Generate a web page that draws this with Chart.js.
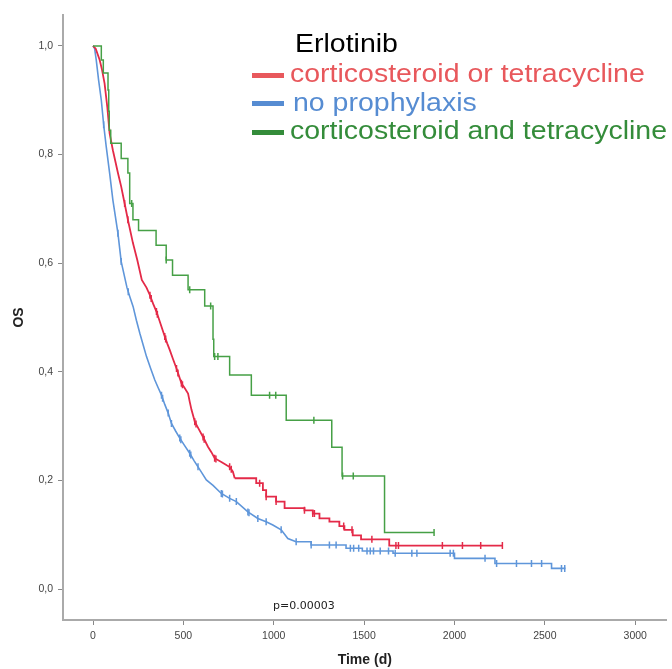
<!DOCTYPE html>
<html lang="en">
<head>
<meta charset="UTF-8">
<title>OS - Erlotinib</title>
<script src="https://cdn.jsdelivr.net/npm/chart.js"></script>
<style>
  body { margin: 0; background: #fff; }
  #wrap { position: relative; width: 672px; height: 669px; }
  .lg { position: absolute; font-family: "Liberation Sans", Arial, sans-serif; font-size: 25px; line-height: 25px;
        white-space: nowrap; transform-origin: 0 0; transform: scaleX(1.14); }
  .sw { position: absolute; left: 252px; width: 32px; height: 5px; }
  #pval { position: absolute; left: 273px; top: 600px; font-family: "DejaVu Sans", sans-serif; font-size: 11px;
          line-height: 11px; color: #222; }
</style>
</head>
<body>
<div id="wrap">
  <canvas id="km" width="672" height="669"></canvas>
  <div id="legend"></div>
  <div id="pval">p=0.00003</div>
</div>
<script>
// tick values
const xTicks = [0, 500, 1000, 1500, 2000, 2500, 3000];
const yTicks = [0, 0.2, 0.4, 0.6, 0.8, 1.0];

// legend
const legendTitle = 'Erlotinib';
const seriesNames = ['corticosteroid or tetracycline', 'no prophylaxis', 'corticosteroid and tetracycline'];
const lineColors = ['rgb(228,42,72)', 'rgb(95,150,218)', 'rgb(70,160,70)'];
const legendColors = ['rgb(232,88,92)', 'rgb(86,140,210)', 'rgb(52,140,58)'];

// corticosteroid or tetracycline (red): time (d) / survival
const redT = [0, 15, 37, 50, 64, 79, 92, 110, 138, 156, 175, 193, 221, 245, 270, 296, 315, 333, 351, 374,
  397, 411, 425, 443, 462, 476, 489, 507, 526, 535, 545, 555, 563, 586, 609, 636, 655, 673, 710, 740, 756,
  774, 784, 903, 940, 958, 1013, 1060, 1170, 1216, 1253, 1308, 1363, 1391, 1437, 1483, 1639, 2265];
const redS = [1.0, 0.995, 0.974, 0.956, 0.931, 0.888, 0.839, 0.808, 0.766, 0.741, 0.710, 0.680, 0.637, 0.606,
  0.569, 0.555, 0.541, 0.525, 0.511, 0.488, 0.465, 0.452, 0.440, 0.423, 0.406, 0.392, 0.379, 0.370, 0.360,
  0.345, 0.330, 0.318, 0.308, 0.294, 0.280, 0.262, 0.252, 0.241, 0.234, 0.228, 0.225, 0.216, 0.204, 0.195,
  0.182, 0.170, 0.161, 0.149, 0.145, 0.139, 0.130, 0.124, 0.116, 0.109, 0.099, 0.0915, 0.080, 0.080];
const redCens = [175, 193, 315, 322, 351, 356, 397, 402, 462, 470, 489, 495, 563, 570, 609, 615, 673, 680,
  756, 765, 922, 958, 1013, 1170, 1216, 1225, 1387, 1433, 1543, 1676, 1690, 1933, 2044, 2145, 2265];

// no prophylaxis (blue)
const blueT = [0, 9, 18, 31, 46, 59, 73, 92, 110, 138, 156, 188, 205, 222, 240, 259, 278, 296, 320, 342,
  360, 379, 397, 416, 434, 457, 480, 507, 535, 558, 581, 604, 627, 664, 710, 756, 793, 857, 912, 958, 995,
  1041, 1078, 1124, 1207, 1400, 1490, 1660, 2000, 2224, 2537, 2614];
const blueS = [1.0, 0.995, 0.974, 0.937, 0.900, 0.855, 0.815, 0.766, 0.716, 0.655, 0.603, 0.555, 0.537, 0.520,
  0.495, 0.471, 0.449, 0.428, 0.405, 0.385, 0.371, 0.357, 0.340, 0.324, 0.305, 0.291, 0.278, 0.264, 0.250,
  0.237, 0.225, 0.213, 0.201, 0.191, 0.176, 0.167, 0.161, 0.142, 0.130, 0.124, 0.118, 0.109, 0.093, 0.087,
  0.081, 0.075, 0.070, 0.066, 0.0565, 0.047, 0.038, 0.038];
const blueCens = [59, 138, 156, 195, 379, 385, 416, 434, 480, 486, 535, 541, 581, 710, 716, 756, 793, 857,
  863, 912, 958, 1041, 1124, 1207, 1308, 1345, 1424, 1442, 1470, 1516, 1534, 1552, 1589, 1635, 1672, 1764,
  1792, 1976, 1994, 2169, 2233, 2343, 2426, 2482, 2592, 2610];

// corticosteroid and tetracycline (green)
const greenT = [0, 46, 57, 83, 87, 90, 98, 156, 193, 203, 221, 252, 349, 405, 440, 526, 618, 664, 668,
  756, 876, 1069, 1321, 1378, 1613, 1887];
const greenS = [1.0, 0.974, 0.950, 0.919, 0.88, 0.845, 0.821, 0.793, 0.766, 0.710, 0.680, 0.660, 0.633,
  0.606, 0.578, 0.551, 0.521, 0.460, 0.428, 0.394, 0.357, 0.311, 0.261, 0.208, 0.104, 0.104];
const greenCens = [214, 405, 535, 651, 673, 691, 977, 1011, 1222, 1381, 1440, 1887];

// dense early part of red/blue is drawn as a polyline, the rest as KM steps
const smoothUntil = [784, 1124, 0];

function survAt(T, S, t, split) {
  for (let i = 1; i < T.length; i++) {
    if (t < T[i]) {
      if (T[i] <= split) return S[i - 1] + (S[i] - S[i - 1]) * (t - T[i - 1]) / (T[i] - T[i - 1]);
      return S[i - 1];
    }
  }
  return S[S.length - 1];
}
function points(T, S, keep) {
  return T.map((t, i) => ({ x: t, y: S[i] })).filter(p => keep(p.x));
}

const groups = [
  { T: redT, S: redS, C: redCens, w: 1.8 },
  { T: blueT, S: blueS, C: blueCens, w: 1.6 },
  { T: greenT, S: greenS, C: greenCens, w: 1.5 }
];

const datasets = [];
[2, 0, 1].forEach(g => {
  const grp = groups[g];
  const split = smoothUntil[g];
  const base = { showLine: true, borderColor: lineColors[g], borderWidth: grp.w, pointRadius: 0 };
  if (split > 0) {
    datasets.push(Object.assign({ data: points(grp.T, grp.S, t => t <= split), stepped: false }, base));
  }
  datasets.push(Object.assign({ data: points(grp.T, grp.S, t => t >= split), stepped: true }, base));
  datasets.push({
    data: grp.C.map(t => ({ x: t, y: survAt(grp.T, grp.S, t, split) })),
    showLine: false,
    pointStyle: 'line', rotation: 90, pointRadius: 3.5,
    borderColor: lineColors[g], pointBorderWidth: 1.5, backgroundColor: lineColors[g]
  });
});

const tickFont = { family: '"Liberation Sans", Arial, sans-serif', size: 10.5 };
const titleFont = { family: '"Liberation Sans", Arial, sans-serif', size: 14, weight: 'bold' };

new Chart(document.getElementById('km'), {
  type: 'scatter',
  data: { datasets: datasets },
  options: {
    responsive: false,
    animation: false,
    layout: { padding: { top: 15, right: 4, left: 0, bottom: 0 } },
    plugins: { legend: { display: false }, tooltip: { enabled: false } },
    scales: {
      x: {
        type: 'linear', min: -166, max: 3173,
        afterBuildTicks: s => { s.ticks = xTicks.map(v => ({ value: v })); },
        afterFit: s => { s.height = 49; },
        ticks: { font: tickFont, color: '#444', padding: 5, maxRotation: 0, callback: v => String(v) },
        grid: { drawOnChartArea: false, tickLength: 5, color: '#888' },
        border: { color: '#aaa', width: 2 },
        title: { display: true, text: 'Time (d)', font: titleFont, color: '#222', padding: { top: 0, bottom: 0 } }
      },
      y: {
        type: 'linear', min: -0.057, max: 1.057,
        afterBuildTicks: s => { s.ticks = yTicks.map(v => ({ value: v })); },
        afterFit: s => { s.width = 63; },
        ticks: { font: tickFont, color: '#444', padding: 5, callback: v => v.toFixed(1).replace('.', ',') },
        grid: { drawOnChartArea: false, tickLength: 5, color: '#888' },
        border: { color: '#aaa', width: 2 },
        title: { display: true, text: 'OS', font: titleFont, color: '#222', padding: { top: 11, bottom: 0 } }
      }
    }
  }
});

// legend block (baseline positions)
const legend = document.getElementById('legend');
function addText(txt, left, baseline, color) {
  const d = document.createElement('div');
  d.className = 'lg';
  d.textContent = txt;
  d.style.left = left + 'px';
  d.style.top = (baseline - 21) + 'px';
  d.style.color = color;
  legend.appendChild(d);
}
addText(legendTitle, 295, 52, '#000');
const textLeft = [290, 293, 290];
const baselines = [82, 111, 139];
const swatchTop = [73, 101, 130];
seriesNames.forEach((name, i) => {
  const sw = document.createElement('div');
  sw.className = 'sw';
  sw.style.top = swatchTop[i] + 'px';
  sw.style.background = legendColors[i];
  legend.appendChild(sw);
  addText(name, textLeft[i], baselines[i], legendColors[i]);
});
</script>
</body>
</html>
